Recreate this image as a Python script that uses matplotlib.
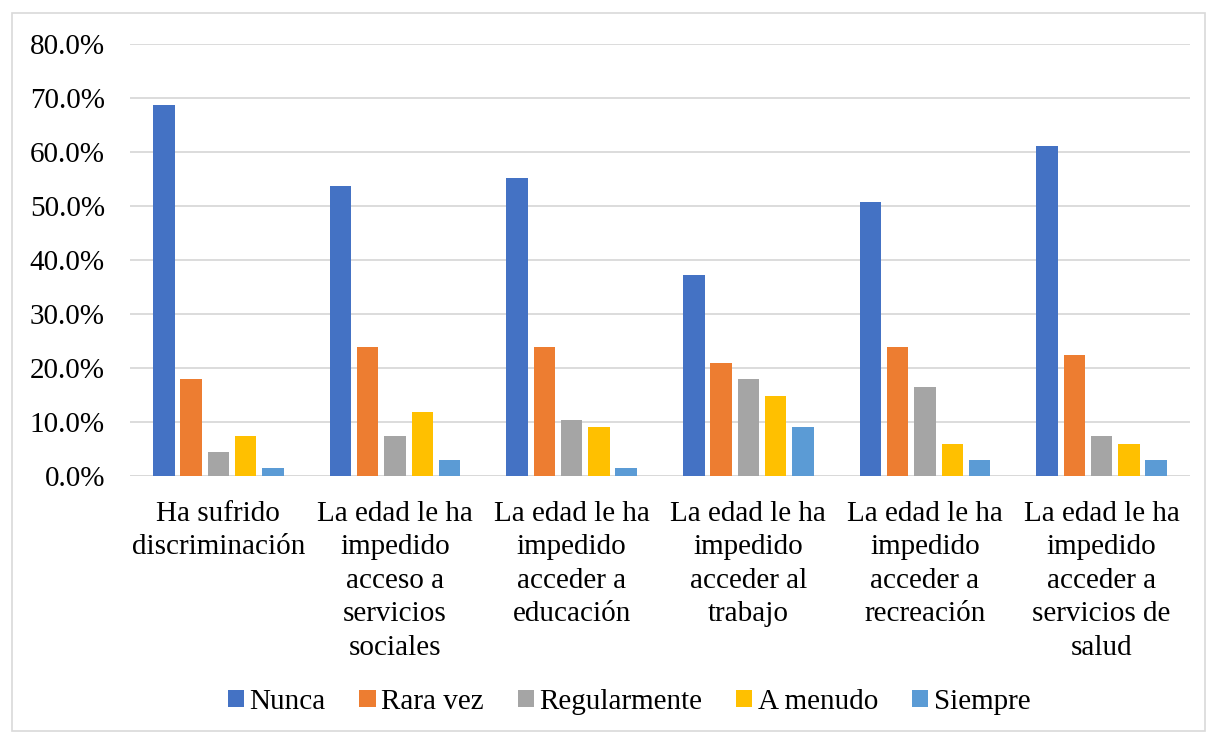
import matplotlib
matplotlib.use("Agg")
import matplotlib.pyplot as plt
from matplotlib.patches import Rectangle
from matplotlib.ticker import FuncFormatter
import numpy as np

categories = [
    "Ha sufrido\ndiscriminación",
    "La edad le ha\nimpedido\nacceso a\nservicios\nsociales",
    "La edad le ha\nimpedido\nacceder a\neducación",
    "La edad le ha\nimpedido\nacceder al\ntrabajo",
    "La edad le ha\nimpedido\nacceder a\nrecreación",
    "La edad le ha\nimpedido\nacceder a\nservicios de\nsalud",
]
series_names = ["Nunca", "Rara vez", "Regularmente", "A menudo", "Siempre"]
nunca = [68.7, 53.7, 55.2, 37.3, 50.7, 61.2]
rara_vez = [17.9, 23.9, 23.9, 20.9, 23.9, 22.4]
regularmente = [4.5, 7.5, 10.4, 17.9, 16.4, 7.5]
a_menudo = [7.5, 11.9, 9.0, 14.9, 6.0, 6.0]
siempre = [1.5, 3.0, 1.5, 9.0, 3.0, 3.0]
yticks = [0, 10, 20, 30, 40, 50, 60, 70, 80]

series = [nunca, rara_vez, regularmente, a_menudo, siempre]
colors = ["#4472C4", "#ED7D31", "#A5A5A5", "#FFC000", "#5B9BD5"]

plt.rcParams['font.family'] = ['Liberation Serif', 'DejaVu Serif']
FS = 21

W, H = 1217, 734
fig = plt.figure(figsize=(W / 100, H / 100), dpi=100)

# outer border
fig.patches.append(Rectangle((12 / W, 1 - 731 / H), (1205 - 12) / W, (731 - 13) / H,
                             transform=fig.transFigure, fill=False,
                             edgecolor="#D9D9D9", linewidth=1.2))

left, right = 130, 1190
top, bottom = 44, 476
ax = fig.add_axes([left / W, 1 - bottom / H, (right - left) / W, (bottom - top) / H])

x = np.arange(len(categories))
pitch = 0.1545
width = 0.122
for i, (vals, c, name) in enumerate(zip(series, colors, series_names)):
    ax.bar(x + (i - 2) * pitch, vals, width=width, color=c, label=name, zorder=3)

ax.set_xlim(-0.5, len(categories) - 0.5)
ax.set_ylim(0, 80)
ax.set_yticks(yticks)
ax.yaxis.set_major_formatter(FuncFormatter(lambda v, p: f"{v:.1f}%"))
ax.grid(axis="y", color="#D9D9D9", linewidth=1.3, zorder=0)
ax.set_axisbelow(True)
for s in ax.spines.values():
    s.set_visible(False)
ax.tick_params(axis="y", length=0, pad=18, labelsize=FS, colors="black")
ax.tick_params(axis="x", length=0, pad=18, labelsize=FS, colors="black")
ax.set_xticks(x)
ax.set_xticklabels(categories, linespacing=1.37)
ax.axhline(0, color="#D9D9D9", linewidth=1.3, zorder=1)

fig.legend(loc="center", bbox_to_anchor=(629 / W, 1 - 702 / H), ncol=5,
           frameon=False, fontsize=FS, handlelength=0.55, handleheight=0.55,
           handletextpad=0.2, columnspacing=1.15)

fig.savefig("out.png", dpi=100)
